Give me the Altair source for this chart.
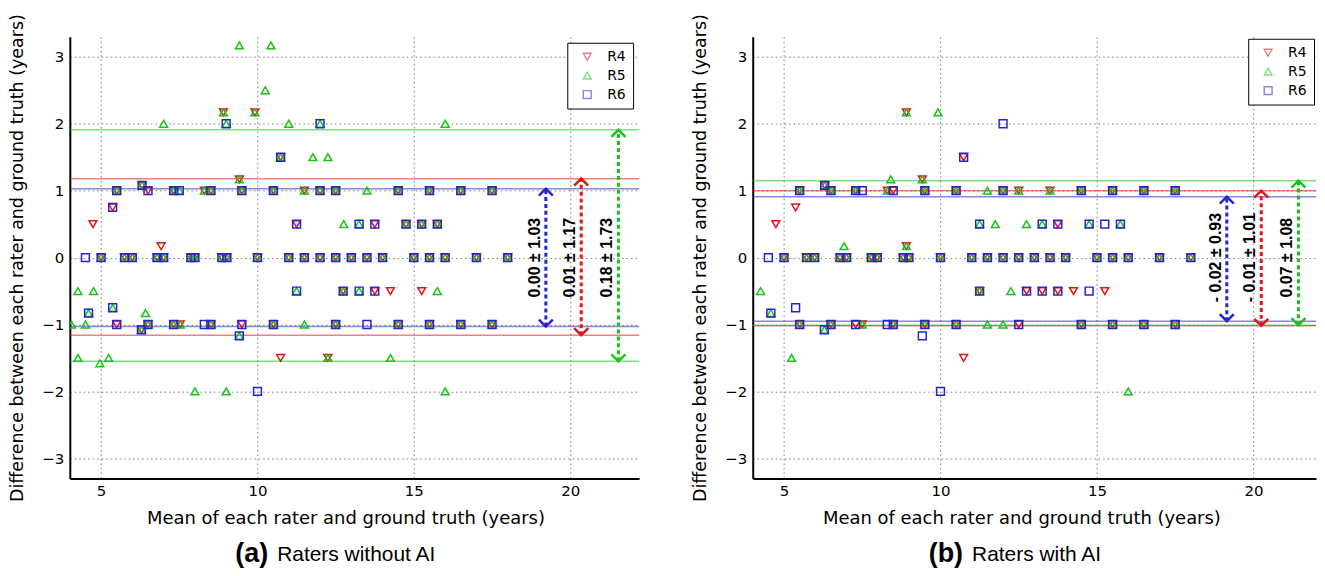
import altair as alt
import pandas as pd

RATERS = ["R4", "R5", "R6"]
COLORS = ["#e0161b", "#18c418", "#2424d0"]
SHAPES = ["triangle-down", "triangle-up", "square"]
SIZES = [62, 62, 88]

# ---------- panel (a): raters without AI  (difference level -> list of mean values)
A_ZERO = [5.0, 5.75, 6.0, 6.79, 7.0, 7.87, 8.0, 8.86, 9.02, 10.0, 11.0, 11.5,
          12.0, 12.5, 13.0, 13.5, 14.0, 15.0, 15.5, 16.0, 17.0, 18.0]
A_R4 = {
    0: A_ZERO,
    2.17: [8.91, 9.92],
    1.5: [10.74],
    1.17: [9.42],
    1.08: [6.31],
    1: [5.5, 6.5, 7.32, 8.3, 8.51, 9.5, 10.51, 11.5, 12.0, 12.5, 14.5, 15.5, 16.5, 17.5],
    0.75: [5.37],
    0.5: [4.74, 11.25, 13.75, 14.75, 15.25, 15.75],
    0.17: [6.92],
    -0.5: [12.74, 13.75, 14.25, 15.25],
    -1: [5.5, 6.5, 7.32, 7.53, 8.51, 9.5, 10.51, 12.5, 14.5, 15.5, 16.5, 17.5],
    -1.08: [6.29],
    -1.5: [10.74, 12.25],
}
A_R5 = {
    0: A_ZERO,
    3.17: [9.42, 10.43],
    2.5: [10.25],
    2.17: [8.91, 9.92],
    2: [7.0, 9.0, 11.0, 12.0, 16.0],
    1.5: [10.74, 11.77, 12.25],
    1.17: [9.42],
    1.08: [6.31],
    1: [5.5, 7.32, 7.5, 8.3, 8.51, 9.5, 10.51, 11.5, 12.0, 12.5, 13.5, 14.5, 15.5, 16.5, 17.5],
    0.5: [12.76, 13.25, 14.75, 15.25, 15.75],
    -0.5: [4.26, 4.76, 11.25, 12.74, 13.25, 15.75],
    -0.75: [5.37],
    -0.83: [4.6, 6.42],
    -1: [4.05, 4.5, 6.5, 7.32, 7.53, 8.51, 10.51, 11.5, 12.5, 14.5, 15.5, 16.5, 17.5],
    -1.08: [6.29],
    -1.17: [9.42],
    -1.5: [4.26, 5.24, 12.25, 14.25],
    -1.58: [4.96],
    -2: [8.0, 9.0, 16.0],
}
A_R6 = {
    0: [4.5] + A_ZERO,
    2: [9.0, 12.0],
    1.5: [10.74],
    1.08: [6.31],
    1: [5.5, 6.5, 7.32, 7.5, 8.51, 9.5, 10.51, 12.0, 12.5, 14.5, 15.5, 16.5, 17.5],
    0.75: [5.37],
    0.5: [11.25, 13.25, 13.75, 14.75, 15.25, 15.75],
    -0.5: [11.25, 12.74, 13.25, 13.75],
    -0.75: [5.37],
    -0.83: [4.6],
    -1: [5.5, 6.5, 7.32, 8.3, 8.51, 9.5, 10.51, 12.5, 13.5, 14.5, 15.5, 16.5, 17.5],
    -1.08: [6.29],
    -1.17: [9.42],
    -2: [10.0],
}
A_MEAN = [0.01, 0.18, 0.00]
A_SD = [1.17, 1.73, 1.03]
A_ARROW_X = [20.35, 21.54, 19.22]
A_LABELS = ["0.01 ± 1.17", "0.18 ± 1.73", "0.00 ± 1.03"]
A_CAPTION = ["(a)", "Raters without AI"]
A_XMAX = 22.2

# ---------- panel (b): raters with AI
B_ZERO = [5.0, 5.72, 5.98, 6.79, 7.0, 7.79, 7.98, 8.81, 8.99, 10.0, 11.0, 11.5,
          12.0, 12.5, 13.0, 13.5, 14.0, 15.0, 15.5, 16.0, 17.0, 18.0]
B_R4 = {
    0: B_ZERO,
    2.17: [8.91],
    1.5: [10.74],
    1.17: [9.42],
    1.08: [6.3],
    1: [5.5, 6.5, 7.29, 8.3, 8.49, 9.5, 10.5, 12.0, 12.5, 13.5, 14.5, 15.5, 16.5, 17.5],
    0.75: [5.37],
    0.5: [4.74, 13.75],
    0.17: [8.91],
    -0.5: [11.25, 12.75, 13.25, 13.75, 14.25, 15.25],
    -1: [5.5, 6.5, 7.29, 7.5, 8.49, 9.5, 10.5, 12.5, 14.5, 15.5, 16.5, 17.5],
    -1.5: [10.74],
}
B_R5 = {
    0: B_ZERO,
    2.17: [8.91, 9.92],
    1.17: [8.41, 9.42],
    1.08: [6.3],
    1: [5.5, 6.5, 7.29, 8.3, 9.5, 10.5, 11.5, 12.0, 12.5, 13.5, 14.5, 15.5, 16.5, 17.5],
    0.5: [11.25, 11.75, 12.75, 13.25, 14.75, 15.75],
    0.17: [6.92, 8.91],
    -0.5: [4.25, 11.25, 12.25],
    -0.83: [4.58],
    -1: [5.5, 6.5, 7.5, 8.49, 9.5, 10.5, 11.5, 12.0, 14.5, 15.5, 16.5, 17.5],
    -1.08: [6.29],
    -1.5: [5.24],
    -2: [16.0],
}
B_R6 = {
    0: [4.5] + B_ZERO,
    2: [12.0],
    1.5: [10.74],
    1.08: [6.3],
    1: [5.5, 6.5, 7.29, 7.5, 8.49, 9.5, 10.5, 12.0, 14.5, 15.5, 16.5, 17.5],
    0.5: [11.25, 13.25, 13.75, 14.75, 15.25, 15.75],
    -0.5: [11.25, 12.75, 13.25, 13.75, 14.75],
    -0.75: [5.37],
    -0.83: [4.58],
    -1: [5.5, 6.5, 7.29, 8.3, 8.49, 9.5, 10.5, 12.5, 14.5, 15.5, 16.5, 17.5],
    -1.08: [6.29],
    -1.17: [9.42],
    -2: [10.0],
}
B_MEAN = [-0.01, 0.07, -0.02]
B_SD = [1.01, 1.08, 0.93]
B_ARROW_X = [20.25, 21.44, 19.15]
B_LABELS = ["- 0.01 ± 1.01", "0.07 ± 1.08", "- 0.02 ± 0.93"]
B_CAPTION = ["(b)", "Raters with AI"]
B_XMAX = 22.0

X_TICKS = [5, 10, 15, 20]
Y_TICKS = [-3, -2, -1, 0, 1, 2, 3]
X_TITLE = "Mean of each rater and ground truth (years)"
Y_TITLE = "Difference between each rater and ground truth (years)"

UP = "M-1,1L0,0L1,1"
DOWN = "M-1,-1L0,0L1,-1"
AX_FONT = "DejaVu Sans"
CAP_FONT = "Liberation Sans"
PX_PER_YEAR = 571 / 18.2
H = 443


def points_df(dicts):
    rows = []
    for r, d in zip(RATERS, dicts):
        for yv, xs in d.items():
            for xv in xs:
                rows.append({"rater": r, "x": xv, "y": yv})
    return pd.DataFrame(rows)


def panel(dicts, means, sds, arrow_x, labels, caption, xmax, leg_offset,
          title_shift, cap_x):
    width = round((xmax - 4) * PX_PER_YEAR)
    pts = points_df(dicts)
    stats = pd.DataFrame({"rater": RATERS, "mean": means, "sd": sds,
                          "ax": arrow_x, "label": labels, "c": COLORS})
    stats["hi"] = stats["mean"] + stats["sd"]
    stats["lo"] = stats["mean"] - stats["sd"]
    lim = pd.concat([stats[["rater", "c"]].assign(v=stats["hi"]),
                     stats[["rater", "c"]].assign(v=stats["lo"])])

    xs = alt.Scale(domain=[4, xmax], nice=False, zero=False)
    ys = alt.Scale(domain=[-3.3, 3.3], nice=False, zero=False)
    xax = alt.Axis(values=X_TICKS, title=X_TITLE, grid=True, ticks=False, format="~g",
                   gridDash=[1.5, 3], gridColor="#7a7a7a", gridWidth=1,
                   domainColor="black", domainWidth=2, labelFont=AX_FONT,
                   labelFontSize=15, labelColor="black", labelPadding=5,
                   titleFont=AX_FONT, titleFontSize=18, titleFontWeight="normal",
                   titleColor="black", titlePadding=11, titleX=width / 2 + title_shift)
    yax = alt.Axis(values=Y_TICKS, title=Y_TITLE, grid=True, ticks=False, format="~g",
                   gridDash=[1.5, 3], gridColor="#7a7a7a", gridWidth=1,
                   domainColor="black", domainWidth=2, labelFont=AX_FONT,
                   labelFontSize=15, labelColor="black", labelPadding=6,
                   titleFont=AX_FONT, titleFontSize=17.5, titleFontWeight="normal",
                   titleColor="black", titlePadding=15)

    base_grid = alt.Chart(pts).mark_point(opacity=0).encode(
        x=alt.X("x:Q", scale=xs, axis=xax), y=alt.Y("y:Q", scale=ys, axis=yax))

    lines = alt.Chart(lim).mark_rule(strokeWidth=1.5, opacity=0.55).encode(
        y=alt.Y("v:Q", scale=ys), color=alt.Color("c:N", scale=None))

    dots = alt.Chart(pts).mark_point(filled=False, strokeWidth=1.5, clip=True, opacity=1).encode(
        x=alt.X("x:Q", scale=xs),
        y=alt.Y("y:Q", scale=ys),
        color=alt.Color("rater:N", scale=alt.Scale(domain=RATERS, range=COLORS),
                        legend=alt.Legend(title=None, orient="top-right", offset=leg_offset,
                                          strokeColor="black", fillColor="white",
                                          padding=7, labelFont=AX_FONT, labelFontSize=14,
                                          labelColor="black", symbolSize=60,
                                          symbolStrokeWidth=1.4, symbolOpacity=1,
                                          rowPadding=5, symbolOffset=6, labelOffset=13)),
        shape=alt.Shape("rater:N", scale=alt.Scale(domain=RATERS, range=SHAPES)),
        size=alt.Size("rater:N", scale=alt.Scale(domain=RATERS, range=SIZES), legend=None),
    )

    arrows = alt.Chart(stats).mark_rule(strokeDash=[4, 3], strokeWidth=3).encode(
        x=alt.X("ax:Q", scale=xs), y=alt.Y("lo:Q", scale=ys), y2="hi:Q",
        color=alt.Color("c:N", scale=None))
    heads_up = alt.Chart(stats).mark_point(shape=UP, filled=False, strokeWidth=2.5, size=196, opacity=1).encode(
        x=alt.X("ax:Q", scale=xs), y=alt.Y("hi:Q", scale=ys), color=alt.Color("c:N", scale=None))
    heads_dn = alt.Chart(stats).mark_point(shape=DOWN, filled=False, strokeWidth=2.5, size=196, opacity=1).encode(
        x=alt.X("ax:Q", scale=xs), y=alt.Y("lo:Q", scale=ys), color=alt.Color("c:N", scale=None))
    texts = alt.Chart(stats).mark_text(angle=270, fontWeight="bold", fontSize=16, font=CAP_FONT,
                                       align="center", baseline="middle", dy=-11, color="black").encode(
        x=alt.X("ax:Q", scale=xs), y=alt.datum(0), text="label:N")

    cap = pd.DataFrame({"tag": [caption[0]], "txt": [caption[1]]})
    cap_tag = alt.Chart(cap).mark_text(align="right", baseline="middle", fontSize=27,
                                       fontWeight="bold", font=CAP_FONT, color="black").encode(
        text="tag:N", x=alt.value(cap_x), y=alt.value(519))
    cap_txt = alt.Chart(cap).mark_text(align="left", baseline="middle", fontSize=21,
                                       font=CAP_FONT, color="black").encode(
        text="txt:N", x=alt.value(cap_x + 9), y=alt.value(520))

    return alt.layer(base_grid, lines, dots, arrows, heads_up, heads_dn, texts,
                     cap_tag, cap_txt).properties(width=width, height=H)


left = panel([A_R4, A_R5, A_R6], A_MEAN, A_SD, A_ARROW_X, A_LABELS, A_CAPTION,
             A_XMAX, 6, -9, 199)
right = panel([B_R4, B_R5, B_R6], B_MEAN, B_SD, B_ARROW_X, B_LABELS, B_CAPTION,
              B_XMAX, 2, -13, 211)

chart = alt.hconcat(left, right, spacing=51).resolve_scale(
    color="independent", shape="independent", size="independent"
).properties(
    padding={"left": 0, "top": 4, "right": 0, "bottom": 0}, background="white"
).configure_view(stroke=None)

chart.save("out.html", embed_options={"renderer": "svg", "actions": False})
